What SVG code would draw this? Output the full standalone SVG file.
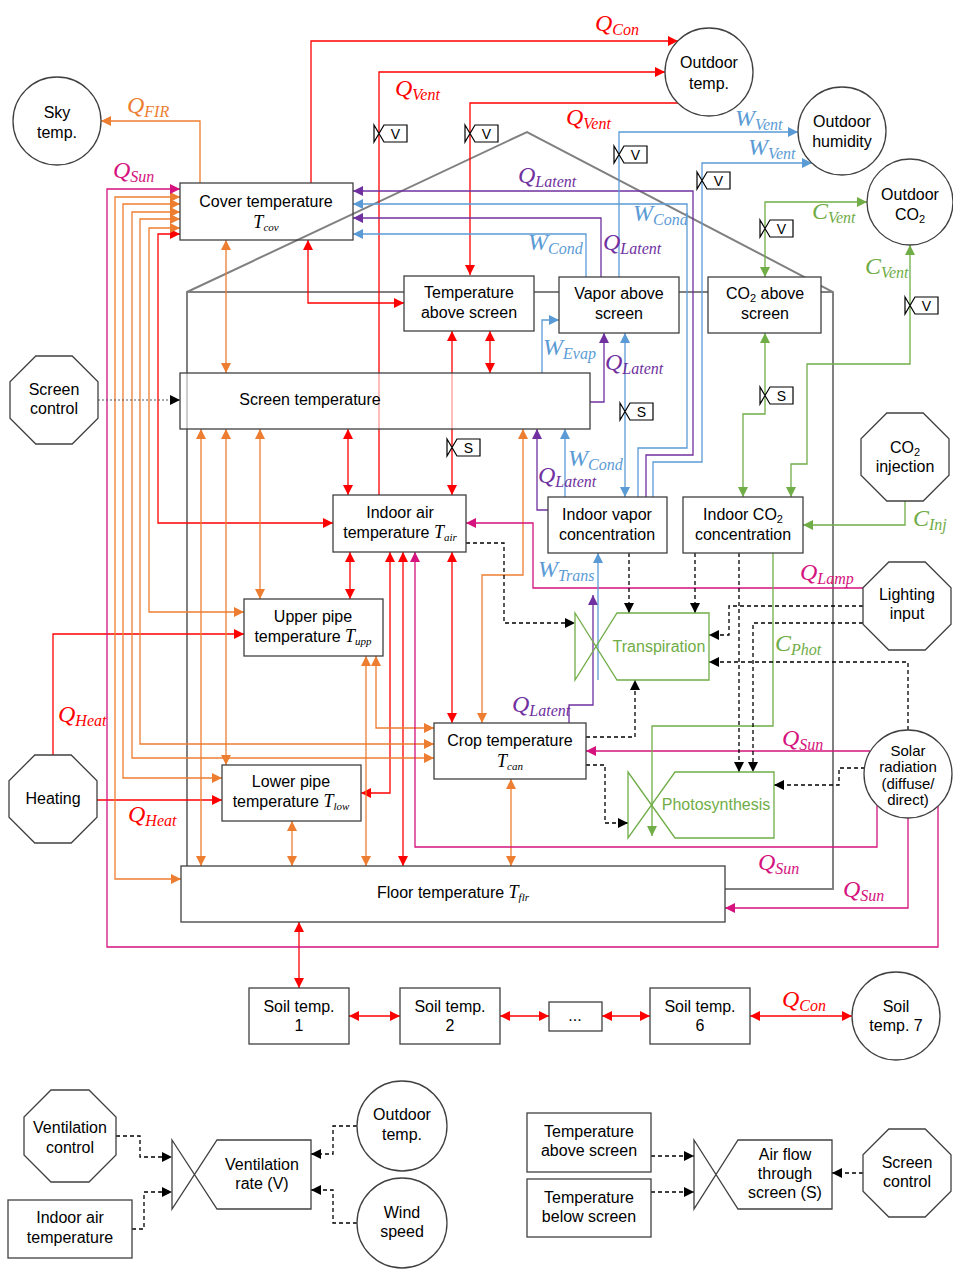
<svg xmlns="http://www.w3.org/2000/svg" width="953" height="1272" viewBox="0 0 953 1272">
<style>
.n{font-family:"Liberation Sans",Arial,sans-serif;font-size:16px;fill:#000;text-anchor:middle}
.sm{font-size:15px}
.m{font-family:"Liberation Serif","Times New Roman",serif;font-style:italic;font-size:24px}
.s{font-size:16px}
.tv{font-family:"Liberation Serif","Times New Roman",serif;font-style:italic;font-size:18px}
.ts{font-size:11px}
.box{fill:#fff;stroke:#404040;stroke-width:1.3}
.c{fill:none;stroke-width:1.3}
.R{stroke:#FF0000}.O{stroke:#ED7D31}.M{stroke:#D5127D}.P{stroke:#7030A0}.B{stroke:#5B9BD5}.G{stroke:#70AD47}
.K{stroke:#000;stroke-dasharray:4 3}
.fR{fill:#FF0000}.fO{fill:#ED7D31}.fM{fill:#D5127D}.fP{fill:#7030A0}.fB{fill:#5B9BD5}.fG{fill:#70AD47}
.vl{fill:#fff;stroke:#000;stroke-width:1.2}
.vt{font-family:"Liberation Sans",Arial,sans-serif;font-size:14px;text-anchor:middle;fill:#000}
.gv{fill:none;stroke:#70AD47;stroke-width:1.3}
.kv{fill:#fff;stroke:#404040;stroke-width:1.3}
</style>
<defs>
<marker id="aR" viewBox="0 0 10 10" refX="10" refY="5" markerWidth="10" markerHeight="10" markerUnits="userSpaceOnUse" orient="auto-start-reverse"><path d="M0,0L10,5L0,10z" fill="#FF0000"/></marker>
<marker id="aO" viewBox="0 0 10 10" refX="10" refY="5" markerWidth="10" markerHeight="10" markerUnits="userSpaceOnUse" orient="auto-start-reverse"><path d="M0,0L10,5L0,10z" fill="#ED7D31"/></marker>
<marker id="aM" viewBox="0 0 10 10" refX="10" refY="5" markerWidth="10" markerHeight="10" markerUnits="userSpaceOnUse" orient="auto-start-reverse"><path d="M0,0L10,5L0,10z" fill="#D5127D"/></marker>
<marker id="aP" viewBox="0 0 10 10" refX="10" refY="5" markerWidth="10" markerHeight="10" markerUnits="userSpaceOnUse" orient="auto-start-reverse"><path d="M0,0L10,5L0,10z" fill="#7030A0"/></marker>
<marker id="aB" viewBox="0 0 10 10" refX="10" refY="5" markerWidth="10" markerHeight="10" markerUnits="userSpaceOnUse" orient="auto-start-reverse"><path d="M0,0L10,5L0,10z" fill="#5B9BD5"/></marker>
<marker id="aG" viewBox="0 0 10 10" refX="10" refY="5" markerWidth="10" markerHeight="10" markerUnits="userSpaceOnUse" orient="auto-start-reverse"><path d="M0,0L10,5L0,10z" fill="#70AD47"/></marker>
<marker id="aK" viewBox="0 0 10 10" refX="10" refY="5" markerWidth="10" markerHeight="10" markerUnits="userSpaceOnUse" orient="auto-start-reverse"><path d="M0,0L10,5L0,10z" fill="#000"/></marker>
</defs>
<rect width="953" height="1272" fill="#fff"/>

<g id="greenhouse">
<path d="M187,866V292L527,132L833,292V889H725M187,292H833" stroke="#808080" stroke-width="2" fill="none"/>
</g>

<g id="connectors">
<!-- red -->
<path class="c R" d="M311,183V41H678" marker-end="url(#aR)"/>
<path class="c R" d="M379,495V72H665" marker-end="url(#aR)"/>
<path class="c R" d="M678,103H470V275" marker-end="url(#aR)"/>
<path class="c R" d="M308,240V303H404" marker-start="url(#aR)" marker-end="url(#aR)"/>
<path class="c R" d="M452,331V495" marker-start="url(#aR)" marker-end="url(#aR)"/>
<path class="c R" d="M490,331V373" marker-start="url(#aR)" marker-end="url(#aR)"/>
<path class="c R" d="M348,429V495" marker-start="url(#aR)" marker-end="url(#aR)"/>
<path class="c R" d="M180,234H158V523H333" marker-start="url(#aR)" marker-end="url(#aR)"/>
<path class="c R" d="M350,552V599" marker-start="url(#aR)" marker-end="url(#aR)"/>
<path class="c R" d="M452,552V723" marker-start="url(#aR)" marker-end="url(#aR)"/>
<path class="c R" d="M390,552V793H361" marker-start="url(#aR)" marker-end="url(#aR)"/>
<path class="c R" d="M403,552V866" marker-start="url(#aR)" marker-end="url(#aR)"/>
<path class="c R" d="M53,755V634H244" marker-end="url(#aR)"/>
<path class="c R" d="M97,800H222" marker-end="url(#aR)"/>
<path class="c R" d="M299,922V988" marker-start="url(#aR)" marker-end="url(#aR)"/>
<path class="c R" d="M349,1016H400" marker-start="url(#aR)" marker-end="url(#aR)"/>
<path class="c R" d="M500,1016H549" marker-start="url(#aR)" marker-end="url(#aR)"/>
<path class="c R" d="M602,1016H650" marker-start="url(#aR)" marker-end="url(#aR)"/>
<path class="c R" d="M750,1016H852" marker-start="url(#aR)" marker-end="url(#aR)"/>
<!-- orange -->
<path class="c O" d="M200,183V121H101" marker-end="url(#aO)"/>
<path class="c O" d="M180,197H115V879H181" marker-start="url(#aO)" marker-end="url(#aO)"/>
<path class="c O" d="M180,204H123V778H222" marker-start="url(#aO)" marker-end="url(#aO)"/>
<path class="c O" d="M180,212H132V758H434" marker-start="url(#aO)" marker-end="url(#aO)"/>
<path class="c O" d="M180,219H140V744H434" marker-start="url(#aO)" marker-end="url(#aO)"/>
<path class="c O" d="M180,228H149V612H244" marker-start="url(#aO)" marker-end="url(#aO)"/>
<path class="c O" d="M226,240V373" marker-start="url(#aO)" marker-end="url(#aO)"/>
<path class="c O" d="M201,429V866" marker-start="url(#aO)" marker-end="url(#aO)"/>
<path class="c O" d="M226,429V765" marker-start="url(#aO)" marker-end="url(#aO)"/>
<path class="c O" d="M260,429V599" marker-start="url(#aO)" marker-end="url(#aO)"/>
<path class="c O" d="M523,429V575H482V723" marker-start="url(#aO)" marker-end="url(#aO)"/>
<path class="c O" d="M376,656V728H434" marker-start="url(#aO)" marker-end="url(#aO)"/>
<path class="c O" d="M366,656V866" marker-start="url(#aO)" marker-end="url(#aO)"/>
<path class="c O" d="M292,821V866" marker-start="url(#aO)" marker-end="url(#aO)"/>
<path class="c O" d="M511,779V866" marker-start="url(#aO)" marker-end="url(#aO)"/>
<!-- magenta -->
<path class="c M" d="M938,806V947H107V189H180" marker-end="url(#aM)"/>
<path class="c M" d="M863,588H533V523H466" marker-end="url(#aM)"/>
<path class="c M" d="M870,751H586" marker-end="url(#aM)"/>
<path class="c M" d="M877,805V847H415V552" marker-end="url(#aM)"/>
<path class="c M" d="M908,818V908H725" marker-end="url(#aM)"/>
<!-- purple -->
<path class="c P" d="M646,497V455H693V191H353" marker-end="url(#aP)"/>
<path class="c P" d="M601,277V218H353" marker-end="url(#aP)"/>
<path class="c P" d="M590,402H604V333" marker-end="url(#aP)"/>
<path class="c P" d="M548,510H537V429" marker-end="url(#aP)"/>
<path class="c P" d="M569,723V705H593V595" marker-end="url(#aP)"/>
<!-- blue -->
<path class="c B" d="M638,497V448H687V204H353" marker-end="url(#aB)"/>
<path class="c B" d="M586,277V234H353" marker-end="url(#aB)"/>
<path class="c B" d="M619,277V132H798" marker-end="url(#aB)"/>
<path class="c B" d="M653,497V462H702V163H812" marker-end="url(#aB)"/>
<path class="c B" d="M542,373V320H559" marker-end="url(#aB)"/>
<path class="c B" d="M625,333V497" marker-start="url(#aB)" marker-end="url(#aB)"/>
<path class="c B" d="M565,497V429" marker-end="url(#aB)"/>
<path class="c B" d="M598,680V553" marker-end="url(#aB)"/>
<!-- green -->
<path class="c G" d="M765,277V202H867" marker-start="url(#aG)" marker-end="url(#aG)"/>
<path class="c G" d="M910,245V364H807V464H791V497" marker-start="url(#aG)" marker-end="url(#aG)"/>
<path class="c G" d="M765,333V414H743V497" marker-start="url(#aG)" marker-end="url(#aG)"/>
<path class="c G" d="M905,501V525H803" marker-end="url(#aG)"/>
<path class="c G" d="M773,553V726H652V836" marker-end="url(#aG)"/>
<!-- black dashed -->
<path class="c K" d="M466,543H504V623H575" marker-end="url(#aK)"/>
<path class="c K" d="M629,553V613" marker-end="url(#aK)"/>
<path class="c K" d="M695,553V613" marker-end="url(#aK)"/>
<path class="c K" d="M863,606H729V635H709" marker-end="url(#aK)"/>
<path class="c K" d="M863,623H753V772" marker-end="url(#aK)"/>
<path class="c K" d="M739,553V772" marker-end="url(#aK)"/>
<path class="c K" d="M908,730V662H709" marker-end="url(#aK)"/>
<path class="c K" d="M865,768H839V785H774" marker-end="url(#aK)"/>
<path class="c K" d="M586,737H635V680" marker-end="url(#aK)"/>
<path class="c K" d="M586,765H605V823H628" marker-end="url(#aK)"/>
<path d="M98,400H180" fill="none" stroke="#555" stroke-width="1.2" stroke-dasharray="2 2" marker-end="url(#aK)"/>
<!-- legend -->
<path class="c K" d="M116,1136H140V1157H172" marker-end="url(#aK)"/>
<path class="c K" d="M132,1229H144V1192H172" marker-end="url(#aK)"/>
<path class="c K" d="M357,1126H333V1154H311" marker-end="url(#aK)"/>
<path class="c K" d="M357,1223H333V1190H311" marker-end="url(#aK)"/>
<path class="c K" d="M651,1156H694" marker-end="url(#aK)"/>
<path class="c K" d="M651,1192H694" marker-end="url(#aK)"/>
<path class="c K" d="M863,1173H832" marker-end="url(#aK)"/>
</g>

<g id="valves">
<path class="vl" d="M374,125L384,142H407V125H384L374,142Z"/><text class="vt" x="395.5" y="139">V</text>
<path class="vl" d="M465,125L475,142H498V125H475L465,142Z"/><text class="vt" x="486.5" y="139">V</text>
<path class="vl" d="M614,146L624,163H647V146H624L614,163Z"/><text class="vt" x="635.5" y="160">V</text>
<path class="vl" d="M697,172L707,189H730V172H707L697,189Z"/><text class="vt" x="718.5" y="186">V</text>
<path class="vl" d="M760,220L770,237H793V220H770L760,237Z"/><text class="vt" x="781.5" y="234">V</text>
<path class="vl" d="M905,297L915,314H938V297H915L905,314Z"/><text class="vt" x="926.5" y="311">V</text>
<path class="vl" d="M447,439L457,456H480V439H457L447,456Z"/><text class="vt" x="468.5" y="453">S</text>
<path class="vl" d="M620,403L630,420H653V403H630L620,420Z"/><text class="vt" x="641.5" y="417">S</text>
<path class="vl" d="M760,387L770,404H793V387H770L760,404Z"/><text class="vt" x="781.5" y="401">S</text>
</g>

<g id="sky"><circle cx="57" cy="121" r="44" class="box"/><text class="n" x="57" y="118">Sky</text><text class="n" x="57" y="138">temp.</text></g>
<g id="outdoor-temp"><circle cx="709" cy="72" r="44" class="box"/><text class="n" x="709" y="68">Outdoor</text><text class="n" x="709" y="89">temp.</text></g>
<g id="outdoor-humidity"><circle cx="842" cy="131" r="44" class="box"/><text class="n" x="842" y="127">Outdoor</text><text class="n" x="842" y="147">humidity</text></g>
<g id="outdoor-co2"><circle cx="910" cy="202" r="43" class="box"/><text class="n" x="910" y="200">Outdoor</text><text class="n" x="910" y="220">CO<tspan font-size="11" dy="3">2</tspan></text></g>
<g id="cover"><rect x="180" y="183" width="173" height="57" fill="none" stroke="#404040" stroke-width="1.3"/><text class="n" x="266" y="207">Cover temperature</text><text class="n" x="266" y="228"><tspan class="tv">T<tspan class="ts" dy="3">cov</tspan></tspan></text></g>
<g id="temp-above"><rect x="404" y="276" width="130" height="55" class="box"/><text class="n" x="469" y="298">Temperature</text><text class="n" x="469" y="318">above screen</text></g>
<g id="vapor-above"><rect x="559" y="277" width="120" height="56" class="box"/><text class="n" x="619" y="299">Vapor above</text><text class="n" x="619" y="319">screen</text></g>
<g id="co2-above"><rect x="708" y="277" width="113" height="56" class="box"/><text class="n" x="765" y="299">CO<tspan font-size="11" dy="3">2</tspan><tspan dy="-3"> above</tspan></text><text class="n" x="765" y="319">screen</text></g>
<g id="screen"><rect x="180" y="373" width="410" height="56" fill="#fff" fill-opacity="0.6" stroke="#404040" stroke-width="1.3"/><text class="n" x="310" y="405">Screen temperature</text></g>
<g id="screen-control"><polygon class="box" points="35.8,356 72.2,356 98,381.8 98,418.2 72.2,444 35.8,444 10,418.2 10,381.8"/><text class="n" x="54" y="395">Screen</text><text class="n" x="54" y="414">control</text></g>
<g id="indoor-air"><rect x="333" y="495" width="133" height="57" class="box"/><text class="n" x="400" y="518">Indoor air</text><text class="n" x="400" y="538">temperature <tspan class="tv">T<tspan class="ts" dy="3">air</tspan></tspan></text></g>
<g id="indoor-vapor"><rect x="548" y="497" width="119" height="56" class="box"/><text class="n" x="607" y="520">Indoor vapor</text><text class="n" x="607" y="540">concentration</text></g>
<g id="indoor-co2"><rect x="683" y="497" width="120" height="56" class="box"/><text class="n" x="743" y="520">Indoor CO<tspan font-size="11" dy="3">2</tspan></text><text class="n" x="743" y="540">concentration</text></g>
<g id="co2-injection"><polygon class="box" points="886.8,413 923.2,413 949,438.8 949,475.2 923.2,501 886.8,501 861,475.2 861,438.8"/><text class="n" x="905" y="453">CO<tspan font-size="11" dy="3">2</tspan></text><text class="n" x="905" y="472">injection</text></g>
<g id="lighting"><polygon class="box" points="888.8,562 925.2,562 951,587.8 951,624.2 925.2,650 888.8,650 863,624.2 863,587.8"/><text class="n" x="907" y="600">Lighting</text><text class="n" x="907" y="619">input</text></g>
<g id="transpiration"><path class="gv" d="M575,613L617,680H709V613H617L575,680Z"/><text class="n" x="659" y="652" fill="#70AD47" style="fill:#70AD47">Transpiration</text></g>
<g id="upper-pipe"><rect x="244" y="599" width="139" height="57" class="box"/><text class="n" x="313" y="622">Upper pipe</text><text class="n" x="313" y="642">temperature <tspan class="tv">T<tspan class="ts" dy="3">upp</tspan></tspan></text></g>
<g id="crop"><rect x="434" y="723" width="152" height="56" class="box"/><text class="n" x="510" y="746">Crop temperature</text><text class="n" x="510" y="767"><tspan class="tv">T<tspan class="ts" dy="3">can</tspan></tspan></text></g>
<g id="lower-pipe"><rect x="222" y="765" width="139" height="56" class="box"/><text class="n" x="291" y="787">Lower pipe</text><text class="n" x="291" y="807">temperature <tspan class="tv">T<tspan class="ts" dy="3">low</tspan></tspan></text></g>
<g id="heating"><polygon class="box" points="34.8,755 71.2,755 97,780.8 97,817.2 71.2,843 34.8,843 9,817.2 9,780.8"/><text class="n" x="53" y="804">Heating</text></g>
<g id="photosynthesis"><path class="gv" d="M628,772L675,838H774V772H675L628,838Z"/><text class="n" x="716" y="810" style="fill:#70AD47">Photosynthesis</text></g>
<g id="solar"><circle cx="908" cy="774" r="44" class="box"/><text class="n sm" x="908" y="756">Solar</text><text class="n sm" x="908" y="772">radiation</text><text class="n sm" x="908" y="789">(diffuse/</text><text class="n sm" x="908" y="805">direct)</text></g>
<g id="floor"><rect x="181" y="866" width="544" height="56" class="box"/><text class="n" x="453" y="898">Floor temperature <tspan class="tv">T<tspan class="ts" dy="3">flr</tspan></tspan></text></g>
<g id="soil1"><rect x="249" y="988" width="100" height="56" class="box"/><text class="n" x="299" y="1012">Soil temp.</text><text class="n" x="299" y="1031">1</text></g>
<g id="soil2"><rect x="400" y="988" width="100" height="56" class="box"/><text class="n" x="450" y="1012">Soil temp.</text><text class="n" x="450" y="1031">2</text></g>
<g id="soil-dots"><rect x="549" y="1002" width="53" height="29" class="box"/><text class="n" x="575" y="1021">...</text></g>
<g id="soil6"><rect x="650" y="988" width="100" height="56" class="box"/><text class="n" x="700" y="1012">Soil temp.</text><text class="n" x="700" y="1031">6</text></g>
<g id="soil7"><circle cx="896" cy="1016" r="44" class="box"/><text class="n" x="896" y="1012">Soil</text><text class="n" x="896" y="1031">temp. 7</text></g>

<g id="legend-vent-control"><polygon class="box" points="51,1090 89,1090 116,1117 116,1155 89,1182 51,1182 24,1155 24,1117"/><text class="n" x="70" y="1133">Ventilation</text><text class="n" x="70" y="1153">control</text></g>
<g id="legend-indoor-air"><rect x="8" y="1200" width="124" height="58" class="box"/><text class="n" x="70" y="1223">Indoor air</text><text class="n" x="70" y="1243">temperature</text></g>
<g id="legend-vent-rate"><path class="kv" d="M172,1140L217,1209H311V1140H217L172,1209Z"/><text class="n" x="262" y="1170">Ventilation</text><text class="n" x="262" y="1189">rate (V)</text></g>
<g id="legend-outdoor-temp"><circle cx="402" cy="1126" r="45" class="box"/><text class="n" x="402" y="1120">Outdoor</text><text class="n" x="402" y="1140">temp.</text></g>
<g id="legend-wind"><circle cx="402" cy="1223" r="45" class="box"/><text class="n" x="402" y="1218">Wind</text><text class="n" x="402" y="1237">speed</text></g>
<g id="legend-temp-above"><rect x="527" y="1113" width="124" height="59" class="box"/><text class="n" x="589" y="1137">Temperature</text><text class="n" x="589" y="1156">above screen</text></g>
<g id="legend-temp-below"><rect x="527" y="1179" width="124" height="58" class="box"/><text class="n" x="589" y="1203">Temperature</text><text class="n" x="589" y="1222">below screen</text></g>
<g id="legend-airflow"><path class="kv" d="M694,1140L738,1209H832V1140H738L694,1209Z"/><text class="n" x="785" y="1160">Air flow</text><text class="n" x="785" y="1179">through</text><text class="n" x="785" y="1198">screen (S)</text></g>
<g id="legend-screen-control"><polygon class="box" points="888.8,1129 925.2,1129 951,1154.8 951,1191.2 925.2,1217 888.8,1217 863,1191.2 863,1154.8"/><text class="n" x="907" y="1168">Screen</text><text class="n" x="907" y="1187">control</text></g>

<g id="labels">
<text class="m fR" x="595" y="31">Q<tspan class="s" dy="4">Con</tspan></text>
<text class="m fR" x="395" y="96">Q<tspan class="s" dy="4">Vent</tspan></text>
<text class="m fR" x="566" y="125">Q<tspan class="s" dy="4">Vent</tspan></text>
<text class="m fO" x="127" y="113">Q<tspan class="s" dy="4">FIR</tspan></text>
<text class="m fM" x="113" y="178">Q<tspan class="s" dy="4">Sun</tspan></text>
<text class="m fB" x="735" y="126">W<tspan class="s" dy="4">Vent</tspan></text>
<text class="m fB" x="748" y="155">W<tspan class="s" dy="4">Vent</tspan></text>
<text class="m fP" x="518" y="183">Q<tspan class="s" dy="4">Latent</tspan></text>
<text class="m fB" x="633" y="221">W<tspan class="s" dy="4">Cond</tspan></text>
<text class="m fB" x="528" y="250">W<tspan class="s" dy="4">Cond</tspan></text>
<text class="m fP" x="603" y="250">Q<tspan class="s" dy="4">Latent</tspan></text>
<text class="m fG" x="812" y="219">C<tspan class="s" dy="4">Vent</tspan></text>
<text class="m fG" x="865" y="274">C<tspan class="s" dy="4">Vent</tspan></text>
<text class="m fB" x="543" y="355">W<tspan class="s" dy="4">Evap</tspan></text>
<text class="m fP" x="605" y="370">Q<tspan class="s" dy="4">Latent</tspan></text>
<text class="m fB" x="568" y="466">W<tspan class="s" dy="4">Cond</tspan></text>
<text class="m fP" x="538" y="483">Q<tspan class="s" dy="4">Latent</tspan></text>
<text class="m fG" x="913" y="526">C<tspan class="s" dy="4">Inj</tspan></text>
<text class="m fB" x="538" y="577">W<tspan class="s" dy="4">Trans</tspan></text>
<text class="m fM" x="800" y="580">Q<tspan class="s" dy="4">Lamp</tspan></text>
<text class="m fG" x="775" y="651">C<tspan class="s" dy="4">Phot</tspan></text>
<text class="m fR" x="58" y="722">Q<tspan class="s" dy="4">Heat</tspan></text>
<text class="m fP" x="512" y="712">Q<tspan class="s" dy="4">Latent</tspan></text>
<text class="m fM" x="782" y="746">Q<tspan class="s" dy="4">Sun</tspan></text>
<text class="m fR" x="128" y="822">Q<tspan class="s" dy="4">Heat</tspan></text>
<text class="m fM" x="758" y="870">Q<tspan class="s" dy="4">Sun</tspan></text>
<text class="m fM" x="843" y="897">Q<tspan class="s" dy="4">Sun</tspan></text>
<text class="m fR" x="782" y="1007">Q<tspan class="s" dy="4">Con</tspan></text>
</g>
</svg>
